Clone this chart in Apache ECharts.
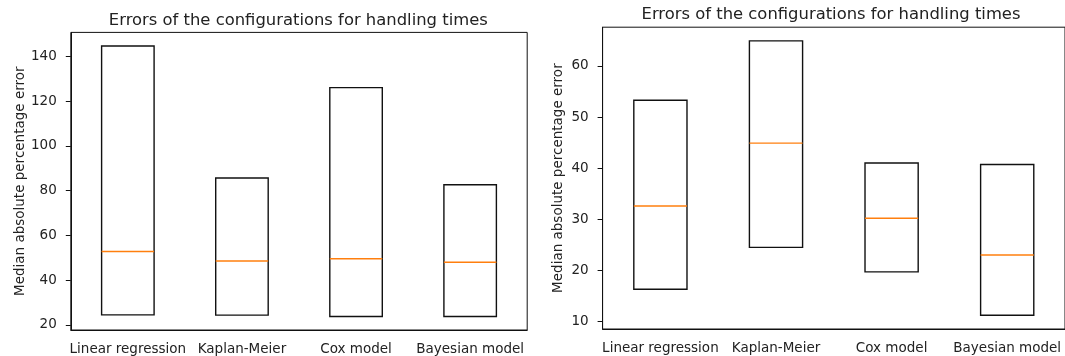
<!DOCTYPE html>
<html>
<head>
<meta charset="utf-8">
<script src="https://cdn.jsdelivr.net/npm/echarts@6/dist/echarts.min.js"></script>
<style>
  html, body { margin: 0; padding: 0; background: #fff; }
  #chart { width: 1065px; height: 356px; }
</style>
</head>
<body>
<div id="chart"></div>
<script>
// Model names shared by both panels
const categories = ['Linear regression', 'Kaplan-Meier', 'Cox model', 'Bayesian model'];

// Left panel: lower quartile, median, upper quartile per model
const leftQ1 = [24.5, 24.4, 23.8, 23.8];
const leftMedian = [52.8, 48.6, 49.6, 48.0];
const leftQ3 = [144.6, 85.6, 126.0, 82.6];
const leftTicks = [20, 40, 60, 80, 100, 120, 140];

// Right panel: lower quartile, median, upper quartile per model
const rightQ1 = [16.3, 24.5, 19.7, 11.2];
const rightMedian = [32.6, 44.9, 30.2, 23.0];
const rightQ3 = [53.3, 64.9, 41.0, 40.7];
const rightTicks = [10, 20, 30, 40, 50, 60];

const titleText = 'Errors of the configurations for handling times';
const yName = 'Median absolute percentage error';

const FONT = 'DejaVu Sans';
const TEXT_COLOR = '#222222';
const BOX_COLOR = '#111111';
const MEDIAN_COLOR = '#ff7f0e';

function rows(q1, med, q3) {
  return categories.map((c, i) => [i, q1[i], med[i], q3[i]]);
}

// Axis limits padded 5% beyond the data, like an auto-scaled box plot
function limits(q1, q3) {
  const lo = Math.min(...q1), hi = Math.max(...q3);
  const pad = (hi - lo) * 0.05;
  return [lo - pad, hi + pad];
}

// One box per model: quartile rectangle plus the median line
function renderBox(params, api) {
  const i = api.value(0);
  const pLo = api.coord([i, api.value(1)]);
  const pMed = api.coord([i, api.value(2)]);
  const pHi = api.coord([i, api.value(3)]);
  const w = api.size([1, 0])[0] * 0.46;
  const x0 = pLo[0] - w / 2;
  return {
    type: 'group',
    children: [
      {
        type: 'rect',
        shape: { x: x0, y: pHi[1], width: w, height: pLo[1] - pHi[1] },
        style: { fill: 'none', stroke: BOX_COLOR, lineWidth: 1.4 }
      },
      {
        type: 'line',
        shape: { x1: x0, y1: pMed[1], x2: x0 + w, y2: pMed[1] },
        style: { stroke: MEDIAN_COLOR, lineWidth: 1.4 }
      }
    ]
  };
}

const leftLim = limits(leftQ1, leftQ3);
const rightLim = limits(rightQ1, rightQ3);

function xAxisFor(gridIndex) {
  return {
    type: 'category',
    gridIndex,
    data: categories,
    boundaryGap: true,
    axisLine: { lineStyle: { color: BOX_COLOR, width: 1 } },
    axisTick: { alignWithLabel: true, length: 5, lineStyle: { color: BOX_COLOR } },
    axisLabel: { color: TEXT_COLOR, fontFamily: FONT, fontSize: 13.5, margin: 12, interval: 0 },
    splitLine: { show: false }
  };
}

function yAxisFor(gridIndex, lim, ticks, nameGap) {
  return {
    type: 'value',
    gridIndex,
    min: lim[0],
    max: lim[1],
    name: yName,
    nameLocation: 'middle',
    nameRotate: 90,
    nameGap,
    nameTextStyle: { color: TEXT_COLOR, fontFamily: FONT, fontSize: 13.5 },
    axisLine: { show: true, lineStyle: { color: BOX_COLOR, width: 1 } },
    axisTick: { show: true, length: 5, customValues: ticks, lineStyle: { color: BOX_COLOR } },
    axisLabel: { color: TEXT_COLOR, fontFamily: FONT, fontSize: 13.5, margin: 14, customValues: ticks },
    splitLine: { show: false }
  };
}

function titleFor(cx, top) {
  return {
    text: titleText, left: cx, top, textAlign: 'center', padding: 0,
    textStyle: { fontFamily: FONT, fontSize: 16.4, fontWeight: 'normal', color: TEXT_COLOR }
  };
}

const chart = echarts.init(document.getElementById('chart'), null, { renderer: 'canvas' });
chart.setOption({
  animation: false,
  backgroundColor: '#ffffff',
  title: [titleFor(298.3, 13), titleFor(831, 7)],
  grid: [
    { left: 70.8, top: 32.4, width: 456.4, height: 297.6, show: true, borderColor: BOX_COLOR, borderWidth: 1, backgroundColor: 'transparent' },
    { left: 602.6, top: 27.2, width: 464.6, height: 301.8, show: true, borderColor: BOX_COLOR, borderWidth: 1, backgroundColor: 'transparent' }
  ],
  xAxis: [xAxisFor(0), xAxisFor(1)],
  yAxis: [yAxisFor(0, leftLim, leftTicks, 43), yAxisFor(1, rightLim, rightTicks, 37)],
  series: [
    {
      type: 'custom', xAxisIndex: 0, yAxisIndex: 0,
      data: rows(leftQ1, leftMedian, leftQ3),
      encode: { x: 0, y: [1, 2, 3] },
      renderItem: renderBox
    },
    {
      type: 'custom', xAxisIndex: 1, yAxisIndex: 1,
      data: rows(rightQ1, rightMedian, rightQ3),
      encode: { x: 0, y: [1, 2, 3] },
      renderItem: renderBox
    }
  ]
});
</script>
</body>
</html>
